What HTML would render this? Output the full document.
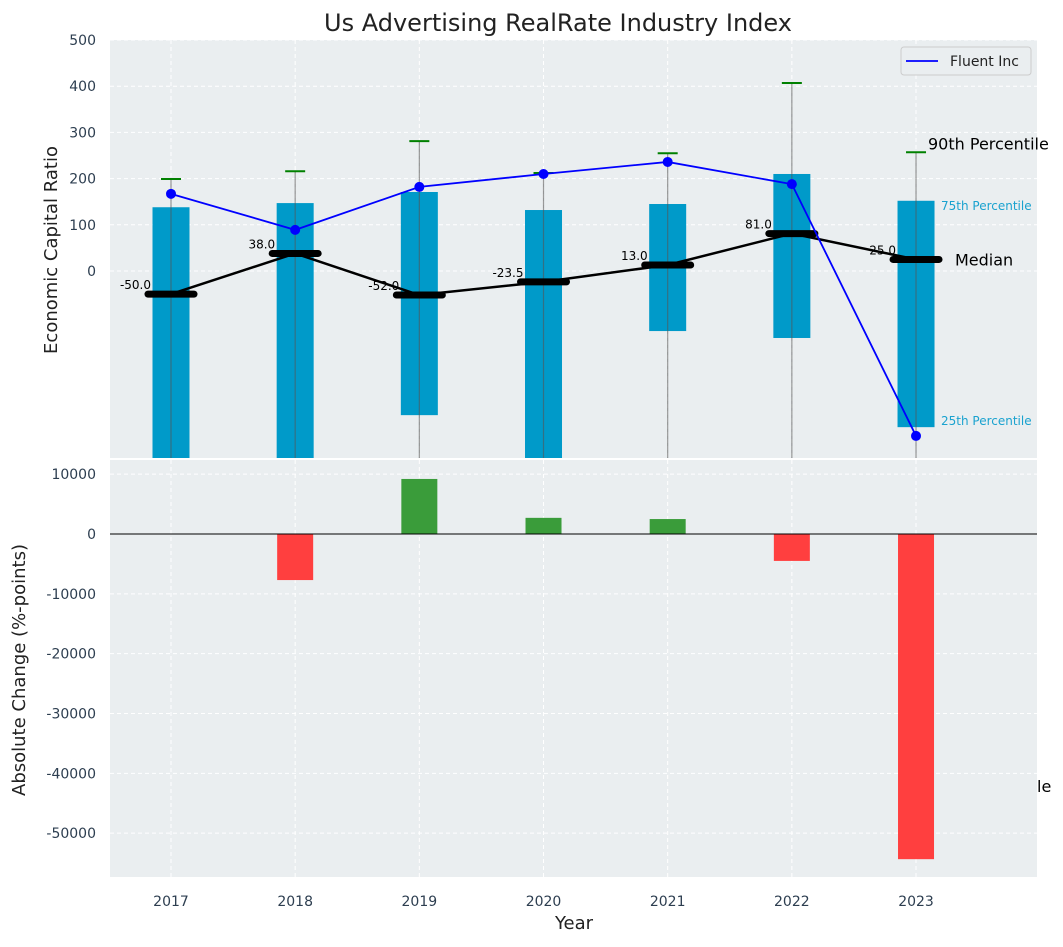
<!DOCTYPE html>
<html><head><meta charset="utf-8"><style>
body{margin:0;background:#fff;font-family:"Liberation Sans","DejaVu Sans",sans-serif}
svg text{font-family:"DejaVu Sans","Liberation Sans",sans-serif}
</style></head><body>
<svg id="c" width="1063" height="942" viewBox="0 0 1063 942"></svg>
<script>
const years=[2017,2018,2019,2020,2021,2022,2023];
const p75=[138,147,171,132,145,210,152];
const p25=[-450,-450,-312,-450,-130,-145,-338];
const p90=[199,216,281,212,255,407,257];
const medians=[-50,38,-52,-23.5,13,81,25];
const fluent=[167,89,182,210,236,188,-357];
const changes=[0,-7700,9200,2700,2500,-4500,-54350];
const topTicks=[0,100,200,300,400,500];
const botTicks=[10000,0,-10000,-20000,-30000,-40000,-50000];

const NS="http://www.w3.org/2000/svg";
const svg=document.getElementById('c');
function el(t,a,p){const e=document.createElementNS(NS,t);for(const k in a)e.setAttribute(k,a[k]);(p||svg).appendChild(e);return e;}
const X=v=>171+(v-2017)*124.17;
const Y1=v=>271-v*0.462;
const Y2=v=>534-v*0.005983;
const L=110,R=1037;
// backgrounds
let bg=el('rect',{x:L,y:40,width:R-L,height:418,fill:'#eaeef0'});

let bg2=el('rect',{x:L,y:460,width:R-L,height:417,fill:'#eaeef0'});

// defs clip
const defs=el('defs',{});
const cp=el('clipPath',{id:'cp1'},defs);el('rect',{x:L,y:40,width:R-L,height:418},cp);
const gT=el('g',{'clip-path':'url(#cp1)'});

// grids
years.forEach(y=>{el('line',{x1:X(y),x2:X(y),y1:40,y2:458,stroke:'#fff','stroke-dasharray':'4,3','stroke-width':1},gT);
 el('line',{x1:X(y),x2:X(y),y1:460,y2:877,stroke:'#fff','stroke-dasharray':'4,3','stroke-width':1});});
topTicks.forEach(t=>{el('line',{x1:L,x2:R,y1:Y1(t),y2:Y1(t),stroke:'#fff','stroke-dasharray':'4,3'},gT);
 let tx=el('text',{x:96,y:Y1(t)+5,'text-anchor':'end','font-size':14,fill:'#2d3e50'});tx.textContent=t;
 });
botTicks.forEach(t=>{el('line',{x1:L,x2:R,y1:Y2(t),y2:Y2(t),stroke:'#fff','stroke-dasharray':'4,3'});
 let tx=el('text',{x:96,y:Y2(t)+5,'text-anchor':'end','font-size':14,fill:'#2d3e50'});tx.textContent=t;
 });
// boxes
years.forEach((y,i)=>{
 let b=el('rect',{x:X(y)-18.5,y:Y1(p75[i]),width:37,height:Y1(p25[i])-Y1(p75[i]),fill:'#009ac9'},gT);
 
 let w=el('line',{x1:X(y),x2:X(y),y1:Y1(p90[i]),y2:470,stroke:'#555','stroke-opacity':0.6,'stroke-width':1.2},gT);
 
 let c=el('line',{x1:X(y)-10,x2:X(y)+10,y1:Y1(p90[i]),y2:Y1(p90[i]),stroke:'green','stroke-width':2},gT);
 
});
// median line
let mp=years.map((y,i)=>X(y)+','+Y1(medians[i])).join(' ');
let ml=el('polyline',{points:mp,fill:'none',stroke:'#000','stroke-width':2.5},gT);

years.forEach((y,i)=>{
 let m=el('line',{x1:X(y)-23,x2:X(y)+23,y1:Y1(medians[i]),y2:Y1(medians[i]),stroke:'#000','stroke-width':7,'stroke-linecap':'round'},gT);
 
 let t=el('text',{x:X(y)-20,y:Y1(medians[i])-5,'text-anchor':'end','font-size':12,fill:'#000'},gT);
 t.textContent=medians[i].toFixed(1);
 
});
// fluent
let fp=years.map((y,i)=>X(y)+','+Y1(fluent[i])).join(' ');
let fl=el('polyline',{points:fp,fill:'none',stroke:'#00f','stroke-width':1.8},gT);

years.forEach((y,i)=>{let d=el('circle',{cx:X(y),cy:Y1(fluent[i]),r:5,fill:'#00f'});
 });
// annotations
const li=years.length-1;
let a1=el('text',{x:928,y:Y1(p90[li])-3,'font-size':16,fill:'#000'});a1.textContent='90th Percentile';

let a2=el('text',{x:941,y:Y1(p75[li])+9,'font-size':12,fill:'#1aa2cf'});a2.textContent='75th Percentile';

let a3=el('text',{x:955,y:Y1(medians[li])+6,'font-size':16,fill:'#000'});a3.textContent='Median';

let a4=el('text',{x:941,y:Y1(p25[li])-2,'font-size':12,fill:'#1aa2cf'});a4.textContent='25th Percentile';

let a5=el('text',{x:1037,y:792,'font-size':16,fill:'#000'});a5.textContent='le';

// bottom bars
years.forEach((y,i)=>{const v=changes[i];
 let r=el('rect',{x:X(y)-18,y:Math.min(Y2(v),Y2(0)),width:36,height:Math.abs(Y2(v)-Y2(0)),fill:v>=0?'#3a9c3a':'#ff3f3f'});
 });
let z=el('line',{x1:L,x2:R,y1:Y2(0),y2:Y2(0),stroke:'#000','stroke-width':1});

// x ticks
years.forEach(y=>{let t=el('text',{x:X(y),y:906,'text-anchor':'middle','font-size':14,fill:'#2d3e50'});t.textContent=y;
 });
// titles
let tt=el('text',{x:558,y:31,'text-anchor':'middle','font-size':24,fill:'#222'});tt.textContent='Us Advertising RealRate Industry Index';

let yl=el('text',{x:0,y:0,'text-anchor':'middle','font-size':18,fill:'#222',transform:'translate(57,250) rotate(-90)'});yl.textContent='Economic Capital Ratio';

let yl2=el('text',{x:0,y:0,'text-anchor':'middle','font-size':18,fill:'#222',transform:'translate(25,670) rotate(-90)'});yl2.textContent='Absolute Change (%-points)';

let xl=el('text',{x:574,y:929,'text-anchor':'middle','font-size':18,fill:'#222'});xl.textContent='Year';

// legend
const lg=el('g',{});
el('rect',{x:901,y:47,width:130,height:28,rx:3,fill:'#eaeef0',stroke:'#ccc'},lg);
el('line',{x1:906,x2:938,y1:61,y2:61,stroke:'#00f','stroke-width':1.8},lg);
let lt=el('text',{x:950,y:66,'font-size':14,fill:'#222'},lg);lt.textContent='Fluent Inc';

</script>
</body></html>
